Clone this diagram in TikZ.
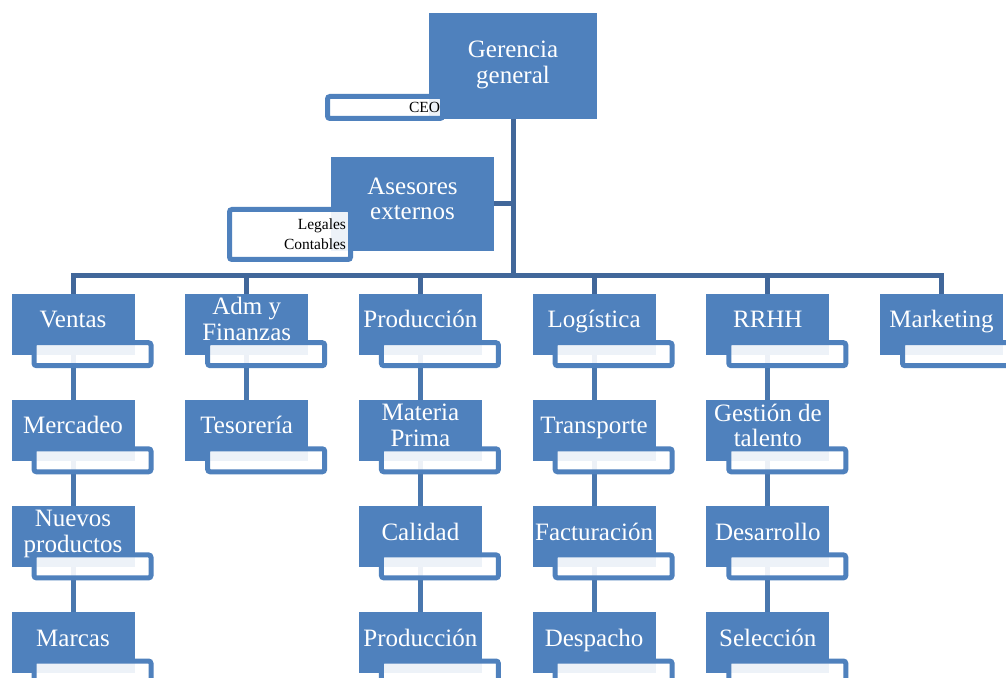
\documentclass[tikz,border=0pt]{standalone}
\usepackage{fontspec}
\setmainfont{Liberation Serif}
\usetikzlibrary{positioning,backgrounds}
\definecolor{unitblue}{RGB}{79,129,189}
\definecolor{busblue}{RGB}{65,103,154}
\tikzset{
  unit/.style={
    shape = rectangle,
    fill = unitblue,
    minimum width = 123pt,
    minimum height = 61pt,
    inner sep = 0pt
  },
  tag/.style={
    shape = rectangle,
    draw = unitblue,
    line width = 5pt,
    fill = white,
    fill opacity = 0.9,
    text opacity = 1,
    rounded corners = 2.5pt,
    minimum width = 117pt,
    minimum height = 23pt,
    inner sep = 0pt,
    font = \fontsize{15.5}{20}\selectfont
  },
  caption/.style={
    text = white,
    align = center,
    inner sep = 0pt,
    font = \fontsize{25}{25.5}\selectfont,
    execute at begin node = \strut,
    execute at end node = \strut
  },
  bus/.style={
    draw = busblue,
    line width = 5pt
  },
  branch/.style={
    draw = unitblue!92!black,
    line width = 5pt
  }
}
\begin{document}
\begin{tikzpicture}[x=1pt, y=1pt, node distance=44.7pt and 50.3pt]
    \useasboundingbox (0,0) rectangle (1006,677);
    % top of the chart
    \node[unit, minimum width=168pt, minimum height=106pt] (gerencia) at (513,611) {};
    \node[tag, minimum width=115pt, minimum height=22pt, text width=110pt, align=right] (ceo) at (385,569.5) {CEO};
    \node[caption] (gerencia-txt) at (gerencia.center) {Gerencia\\general};
    \node[unit, minimum width=163pt, minimum height=94pt] (asesores) at (412.5,473) {};
    \node[tag, minimum width=121pt, minimum height=50pt, text width=112pt, align=right] (externos) at (290,442.5) {Legales\\Contables};
    \node[caption] (asesores-txt) at ([yshift=1.4pt]asesores.center) {Asesores\\externos};
    % first row
    \node[unit] (ventas) at (73,352.5) {};
    \node[unit, right=of ventas] (adm) {};
    \node[unit, right=of adm] (produccion) {};
    \node[unit, right=of produccion] (logistica) {};
    \node[unit, right=of logistica] (rrhh) {};
    \node[unit, right=of rrhh] (marketing) {};
    % columns
    \node[unit, below=of ventas] (mercadeo) {};
    \node[unit, below=of mercadeo] (nuevos) {};
    \node[unit, below=of nuevos] (marcas) {};
    \node[unit, below=of adm] (tesoreria) {};
    \node[unit, below=of produccion] (materia) {};
    \node[unit, below=of materia] (calidad) {};
    \node[unit, below=of calidad] (planta) {};
    \node[unit, below=of logistica] (transporte) {};
    \node[unit, below=of transporte] (facturacion) {};
    \node[unit, below=of facturacion] (despacho) {};
    \node[unit, below=of rrhh] (talento) {};
    \node[unit, below=of talento] (desarrollo) {};
    \node[unit, below=of desarrollo] (seleccion) {};
    \foreach \n/\t in {ventas/Ventas, adm/{Adm y\\Finanzas}, produccion/Producción,
        logistica/Logística, rrhh/RRHH, marketing/Marketing,
        mercadeo/Mercadeo, nuevos/{Nuevos\\productos}, marcas/Marcas,
        tesoreria/Tesorería, materia/{Materia\\Prima}, calidad/Calidad,
        planta/Producción, transporte/Transporte, facturacion/Facturación,
        despacho/Despacho, talento/{Gestión de\\talento}, desarrollo/Desarrollo,
        seleccion/Selección}{
        \node[tag] (\n-tag) at ([xshift=19.5pt, yshift=1pt]\n.south) {};
        \node[caption] (\n-txt) at ([yshift=1.7pt]\n.center) {\t};
    }
    % connectors behind the boxes
    \begin{scope}[on background layer]
        \fill[white] (0,0) rectangle (1006,677);
        \coordinate (bus) at ([yshift=-156pt]gerencia.south);
        \draw[bus] (gerencia.south) -- (bus);
        \draw[bus] (asesores.east) -- (asesores.east -| bus);
        \foreach \n in {ventas, adm, produccion, logistica, rrhh, marketing}{
            \draw[bus] (bus) -| (\n.north);
        }
        \foreach \a/\b in {ventas/mercadeo, mercadeo/nuevos, nuevos/marcas,
            adm/tesoreria, produccion/materia, materia/calidad, calidad/planta,
            logistica/transporte, transporte/facturacion, facturacion/despacho,
            rrhh/talento, talento/desarrollo, desarrollo/seleccion}{
            \draw[branch] (\a.south) -- (\b.north);
        }
    \end{scope}
\end{tikzpicture}
\end{document}
